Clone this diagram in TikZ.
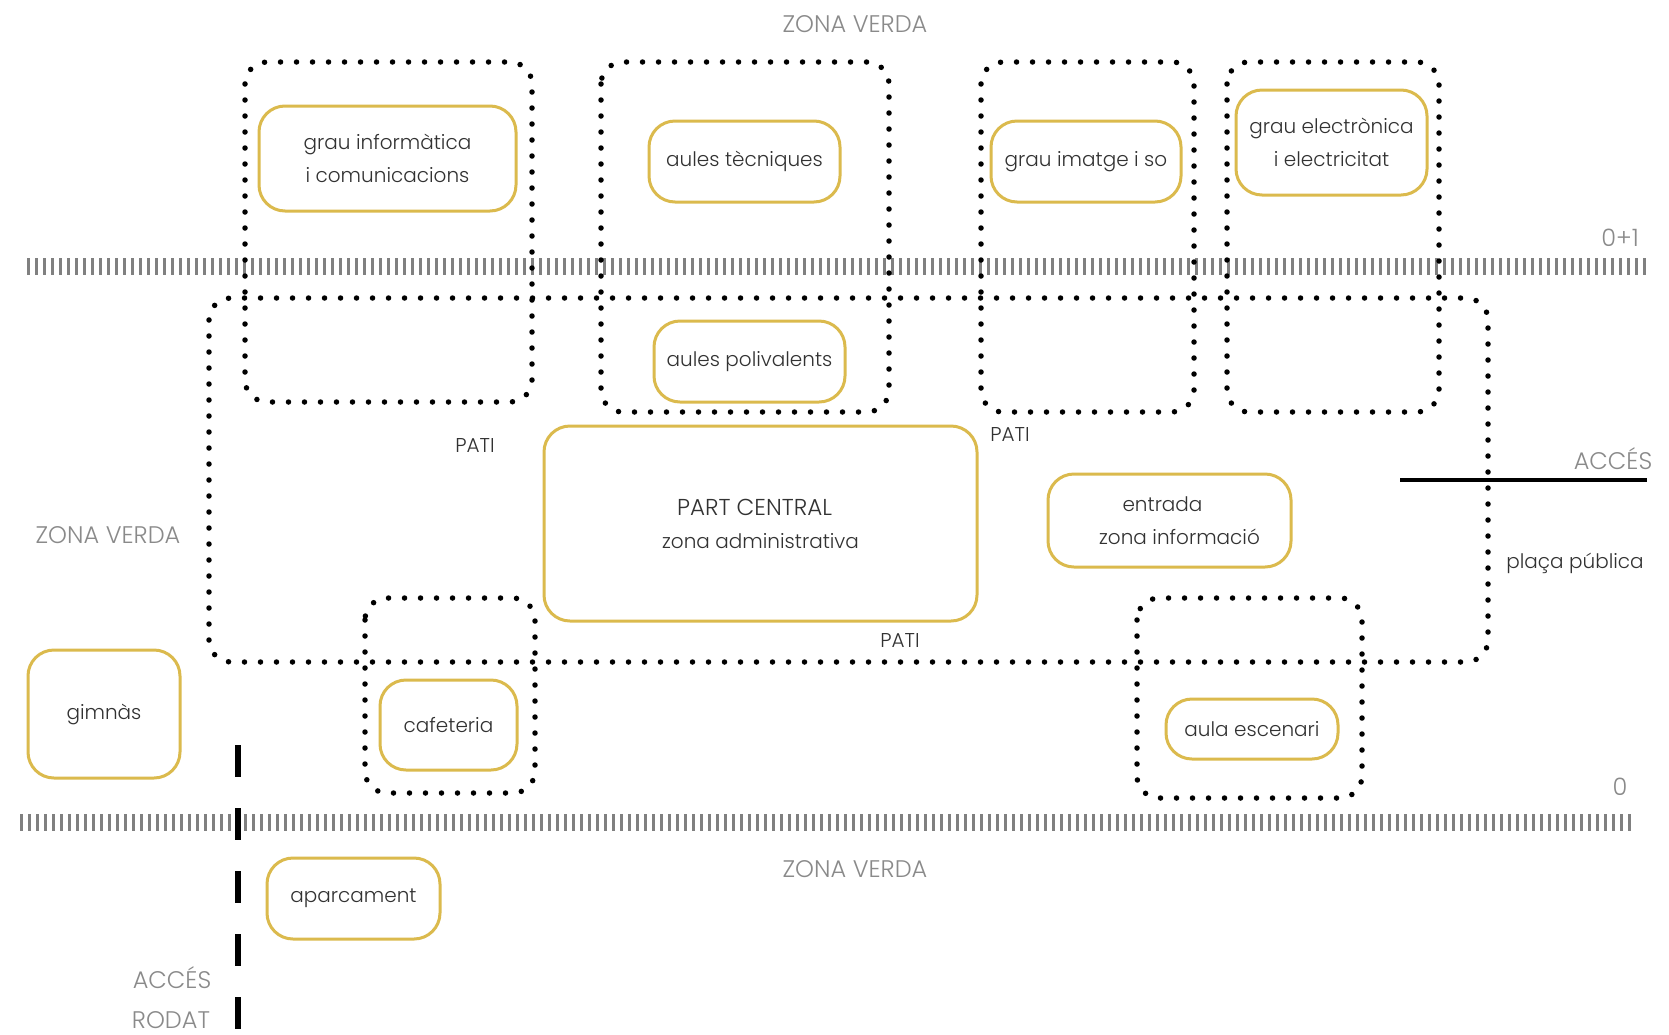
\documentclass[tikz,border=0pt]{standalone}
\usepackage{fontspec}
\setmainfont{Poppins}[UprightFont=* Light]
\definecolor{gold}{RGB}{219,186,77}
\definecolor{lbl}{RGB}{138,138,138}
\definecolor{txt}{RGB}{50,50,50}
\definecolor{hatch}{RGB}{128,128,128}
\tikzset{
  dotbox/.style={draw=black, line width=5.5pt, line cap=round, dash pattern=on 0pt off 16pt, rounded corners=22pt},
  goldbox/.style={draw=gold, line width=3pt, rounded corners=26pt, inner sep=0pt, align=center, text=txt, font=\fontsize{20}{33}\selectfont},
  graylbl/.style={text=lbl, inner sep=0pt, font=\fontsize{24}{28}\selectfont},
  darklbl/.style={text=txt, inner sep=0pt, font=\fontsize{20}{24}\selectfont},
  hatchline/.style={draw=hatch, line width=17pt, dash pattern=on 3pt off 5pt},
}
\begin{document}
\begin{tikzpicture}[x=1pt,y=-1pt]
\useasboundingbox[fill=white] (0,0) rectangle (1669,1034);

% level lines
\coordinate (h1a) at (27,266); \coordinate (h1b) at (1648,266);
\coordinate (h0a) at (20,822); \coordinate (h0b) at (1631,822);
\draw[hatchline] (h1a) -- (h1b);
\draw[hatchline] (h0a) -- (h0b);

% dotted zones
\draw[dotbox] (245,62) rectangle (532,402);
\draw[dotbox] (601,62) rectangle (889,412);
\draw[dotbox] (981,62) rectangle (1194,412);
\draw[dotbox] (1227,62) rectangle (1439,412);
\draw[dotbox] (209,298) rectangle (1488,662);
\draw[dotbox] (365,598) rectangle (535,793);
\draw[dotbox] (1137,598) rectangle (1362,798);

% access lines
\coordinate (acA) at (1400,480); \coordinate (acB) at (1647,480);
\draw[line width=3.5pt] (acA) -- (acB);
\coordinate (rdA) at (238,745); \coordinate (rdB) at (238,1034);
\draw[line width=6pt, dash pattern=on 32pt off 31pt] (rdA) -- (rdB);

% gold boxes
\node[goldbox, minimum width=257pt, minimum height=105pt] (info) at (387.5,158.5) {grau informàtica\\i comunicacions};
\node[goldbox, minimum width=191pt, minimum height=81pt] (tecn) at (744.5,161.5) {aules tècniques};
\node[goldbox, minimum width=190pt, minimum height=81pt] (imatge) at (1086,161.5) {grau imatge i so};
\node[goldbox, minimum width=191pt, minimum height=105pt] (electr) at (1331.5,142.5) {grau electrònica\\i electricitat};
\node[goldbox, minimum width=191pt, minimum height=81pt] (poliv) at (749.5,361.5) {aules polivalents};
\node[goldbox, minimum width=433pt, minimum height=195pt] (central) at (760.5,523.5) {{\fontsize{23}{33}\selectfont PART CENTRAL}\hspace*{12pt}\\zona administrativa};
\node[goldbox, minimum width=243pt, minimum height=93pt] (entrada) at (1169.5,520.5) {entrada\hspace*{14pt}\\\hspace*{20pt}zona informació};
\node[goldbox, minimum width=152pt, minimum height=128pt] (gimnas) at (104,714) {gimnàs};
\node[goldbox, minimum width=137pt, minimum height=90pt] (cafe) at (448.5,725) {cafeteria};
\node[goldbox, minimum width=172pt, minimum height=60pt] (escen) at (1252,729) {aula escenari};
\node[goldbox, minimum width=173pt, minimum height=81pt] (aparc) at (353.5,898.5) {aparcament};

% labels
\node[graylbl] (zvtop) at (855,24) {ZONA VERDA};
\node[graylbl] (zvleft) at (108,535) {ZONA VERDA};
\node[graylbl] (zvbot) at (855,869) {ZONA VERDA};
\node[graylbl] (l01) at (1620,238) {0+1};
\node[graylbl] (l0) at (1620,787) {0};
\node[graylbl] (accR) at (1613,459) {ACCÉS};
\node[graylbl] (accB) at (172,978) {ACCÉS};
\node[graylbl] (rodat) at (171,1020) {RODAT};
\node[darklbl] (placa) at (1575,563) {plaça pública};
\node[darklbl] (pati1) at (475,446) {PATI};
\node[darklbl] (pati2) at (1010,435) {PATI};
\node[darklbl] (pati3) at (900,640) {PATI};
\end{tikzpicture}
\end{document}
